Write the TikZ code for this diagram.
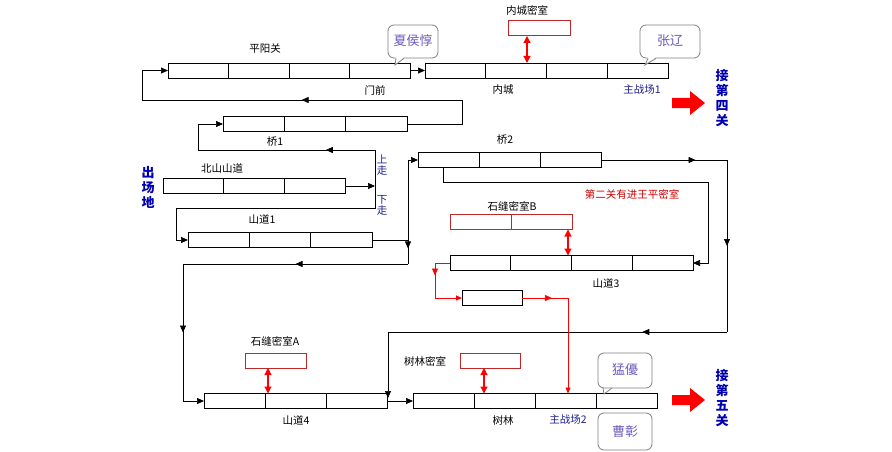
\documentclass[tikz,border=0pt]{standalone}
\usepackage{fontspec}
\setmainfont{Noto Sans CJK SC}
\usetikzlibrary{arrows.meta,decorations.markings}
\definecolor{dblue}{RGB}{30,30,140}
\definecolor{purp}{RGB}{110,90,190}
\definecolor{rbox}{RGB}{190,40,40}
\tikzset{
 cell/.style={draw=black,line width=0.7pt,minimum height=15pt,inner sep=0,outer sep=0},
 rcell/.style={draw=rbox,line width=0.9pt,minimum height=15pt,inner sep=0,outer sep=0},
 lbl/.style={font=\fontsize{10.5}{10.5}\selectfont},
 blbl/.style={font=\fontsize{10.5}{10.5}\selectfont,text=dblue},
 side/.style={font=\bfseries\fontsize{13}{15}\selectfont,text=blue!70!black,align=center},
 path/.style={line width=0.7pt},
 mid/.style={postaction={decorate},decoration={markings,mark=at position #1 with {\arrow{Triangle[length=7pt,width=6pt]}}}},
 endar/.style={-{Triangle[length=7pt,width=6pt]}},
 rpath/.style={line width=0.8pt,draw=red},
 rend/.style={-{Triangle[length=6pt,width=5pt]},red},
 dbl/.style={{Triangle[length=7pt,width=7pt]}-{Triangle[length=7pt,width=7pt]},red,line width=1.2pt},
 call/.style={draw=gray,rounded corners=6pt,line width=0.8pt,fill=white},
 ctext/.style={font=\fontsize{13}{13}\selectfont,text=purp},
}
\newcommand{\mybar}[5]{% name, x1, x2, y, ncells
 \pgfmathsetmacro{\w}{(#3-#2)/#5}
 \foreach \i in {1,...,#5}{
  \node[cell,minimum width=\w pt] (#1\i) at ({#2+(\i-0.5)*\w},#4) {};}
 \coordinate (#1W) at (#2,#4); \coordinate (#1E) at (#3,#4); }
\newcommand{\myrbar}[5]{%
 \pgfmathsetmacro{\w}{(#3-#2)/#5}
 \foreach \i in {1,...,#5}{
  \node[rcell,minimum width=\w pt] (#1\i) at ({#2+(\i-0.5)*\w},#4) {};}}
\begin{document}
\begin{tikzpicture}[x=1pt,y=-1pt]
\useasboundingbox (0,0) rectangle (892,452);
% bars
\mybar{A}{168}{410}{70.5}{4}
\mybar{B}{425}{668}{70.5}{4}
\mybar{Q}{223}{407}{124}{3}
\mybar{N}{163}{345}{186}{3}
\mybar{S}{188}{372}{240}{3}
\mybar{Z}{418}{601}{160}{3}
\mybar{T}{450}{693}{263}{4}
\mybar{F}{204}{387}{401}{3}
\mybar{L}{413}{657}{401}{4}
\node[cell,minimum width=60pt] (small) at (492,298) {};
\myrbar{R}{508}{570}{28}{1}
\myrbar{K}{450}{572}{222}{2}
\myrbar{P}{245}{306}{360.5}{1}
\myrbar{M}{460}{520}{360.5}{1}
% anchors for double arrows
\coordinate (r1) at (527,36); \coordinate (r2) at (527,63);
\coordinate (k1) at (568,229.5); \coordinate (k2) at (568,255.5);
\coordinate (p1) at (268,368); \coordinate (p2) at (268,393.5);
\coordinate (m1) at (484,368); \coordinate (m2) at (484,393.5);
% labels
\node[lbl] (t1) at (265,49) {平阳关};
\node[lbl] (t2) at (375,90) {门前};
\node[lbl] (t3) at (503,90) {内城};
\node[blbl] (t4) at (642,90) {主战场1};
\node[lbl] (t5) at (527,10) {内城密室};
\node[lbl] (t6) at (275,142) {桥1};
\node[lbl] (t7) at (505,140) {桥2};
\node[lbl] (t8) at (222,168) {北山山道};
\node[font=\fontsize{10.5}{10.5}\selectfont,text=red!80!black] (t10) at (632,194) {第二关有进王平密室};
\node[lbl] (t9) at (262,219) {山道1};
\node[lbl] (t11) at (512,206) {石缝密室B};
\node[lbl] (t12) at (606,283) {山道3};
\node[lbl] (t13) at (275,341) {石缝密室A};
\node[lbl] (t14) at (425,361) {树林密室};
\node[lbl] (t15) at (296,420) {山道4};
\node[lbl] (t16) at (503,420) {树林};
\node[blbl] (t17) at (568,420) {主战场2};
\node[blbl,align=center,font=\fontsize{10.5}{11}\selectfont] (t18) at (382,165) {上\\走};
\node[blbl,align=center,font=\fontsize{10.5}{11}\selectfont] (t19) at (382,205) {下\\走};
\node[side] (t20) at (148,187) {出\\场\\地};
\node[side] (t21) at (722,98) {接\\第\\四\\关};
\node[side] (t22) at (722,398) {接\\第\\五\\关};
% callouts
\draw[call] (388,25) rectangle (438,58);
\fill[white] (396,57) -- (404,57) -- (395,65) -- cycle;
\draw[gray,line width=0.8pt] (396,58.4) -- (395,65) -- (404,58.4);
\node[ctext] (c1) at (413,41) {夏侯惇};
\draw[call] (640,25) rectangle (700,58);
\fill[white] (648,57) -- (656,57) -- (645,65) -- cycle;
\draw[gray,line width=0.8pt] (648,58.4) -- (645,65) -- (656,58.4);
\node[ctext] (c2) at (670,41) {张辽};
\draw[call] (598,353) rectangle (652,388);
\draw[gray,line width=0.8pt] (603,388) -- (604,394) -- (612,388);
\node[ctext] (c3) at (625,370) {猛優};
\draw[call] (598,413) rectangle (652,450);
\node[ctext] (c4) at (625,432) {曹彰};
% red big arrows
\fill[red] (672,98) -- (690,98) -- (690,91) -- (705,103) -- (690,115) -- (690,108) -- (672,108) -- cycle;
\fill[red] (672,395) -- (690,395) -- (690,388) -- (705,400) -- (690,412) -- (690,405) -- (672,405) -- cycle;
% black connectors
\draw[path,endar] (AE) -- (BW);
\draw[path,mid=0.6] (QE) -- (462,124) -- (462,100) -- (142,100);
\draw[path,endar] (142,100) -- (142,70.5) -- (AW);
\draw[path,endar] (NE) -- (375,186);
\draw[path,mid=0.4] (375,186) -- (375,150) -- (198,150);
\draw[path,endar] (198,150) -- (198,124) -- (QW);
\draw[path,endar] (375,186) -- (375,208) -- (176,208) -- (176,240) -- (SW);
\draw[path] (SE) -- (408,240);
\draw[path,endar] (408,160) -- (ZW);
\draw[path,mid=0.85] (408,160) -- (408,264);
\draw[path,mid=0.5] (408,264) -- (183,264);
\draw[path,mid=0.5] (183,264) -- (183,401);
\draw[path,endar] (183,340) -- (183,401) -- (FW);
\draw[path,endar] (FE) -- (LW);
\draw[path,mid=0.75] (ZE) -- (727,160);
\draw[path,mid=0.5] (727,160) -- (727,332);
\draw[path,mid=0.25] (727,332) -- (388,332);
\draw[path,endar] (388,332) -- (388,398);
\draw[path,endar] (443,167.5) -- (443,182) -- (708,182) -- (708,263) -- (TE);
% red connectors
\draw[dbl] (r1) -- (r2);
\draw[dbl] (k1) -- (k2);
\draw[dbl] (p1) -- (p2);
\draw[dbl] (m1) -- (m2);
\draw[rpath,mid=0.55,red] (TW) -- (435,263) -- (435,298);
\draw[rpath,rend] (435,290) -- (435,298) -- (small.west);
\draw[rpath,mid=0.65] (small.east) -- (568,298);
\draw[rpath,rend] (568,298) -- (568,393.5);
\end{tikzpicture}
\end{document}
